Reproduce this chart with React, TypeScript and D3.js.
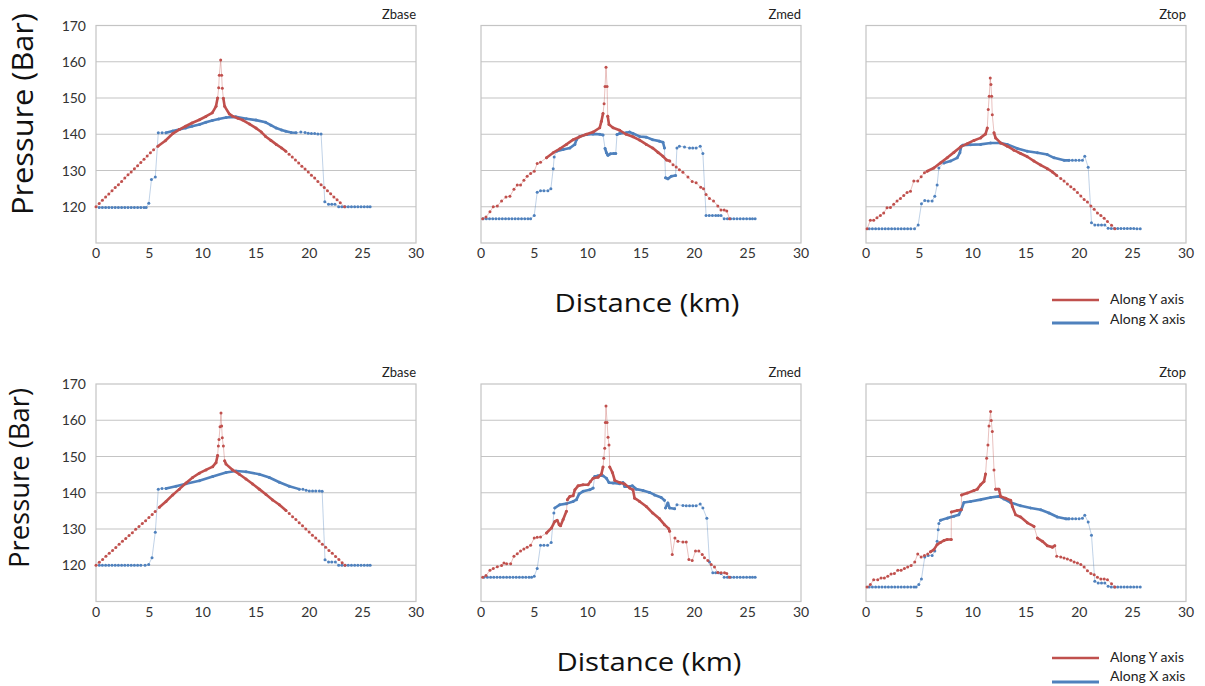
import React from 'react';
import * as d3 from 'd3';

type Pt = [number, number];

const xTicks = [0, 5, 10, 15, 20, 25, 30];
const yTicks = [120, 130, 140, 150, 160, 170];
const gridValues = [120, 130, 140, 150, 160];
const panelTitles = ['Zbase', 'Zmed', 'Ztop'];
const legendLabels = ['Along Y axis', 'Along X axis'];
const yAxisTitle = 'Pressure (Bar)';
const xAxisTitle = 'Distance (km)';

// ---------- Row 1 ----------
const redBaseTop: Pt[] = [
  [0, 120], [0.3, 120.9], [0.6, 121.8], [0.9, 122.7], [1.2, 123.5], [1.5, 124.4], [1.8, 125.3], [2.1, 126.1],
  [2.4, 127], [2.7, 127.9], [3.0, 128.8], [3.3, 129.6], [3.6, 130.5], [3.9, 131.3], [4.2, 132.2], [4.5, 133.1],
  [4.8, 134], [5.1, 134.9], [5.4, 135.7], [5.8, 136.7], [6.5, 138.2], [7.2, 140.2], [7.8, 141.3], [8.4, 142.2],
  [9.0, 143.1], [9.7, 144], [10.3, 144.9], [10.9, 145.9], [11.25, 147.7], [11.4, 150], [11.5, 152.8], [11.56, 156.3],
  [11.69, 160.5], [11.78, 156.3], [11.84, 152.7], [11.94, 149.9], [12.06, 147.7], [12.5, 145.6], [12.8, 145],
  [13.3, 144.4], [13.75, 143.9], [14.4, 142.8], [15, 141.7], [15.5, 140.6], [15.9, 139.4], [16.4, 138.3],
  [16.9, 137.2], [17.4, 136.2], [17.8, 135.3], [18.1, 134.5], [18.4, 133.7], [18.7, 132.9], [19.0, 132.1],
  [19.3, 131.2], [19.6, 130.4], [19.9, 129.6], [20.2, 128.7], [20.5, 127.9], [20.8, 127], [21.1, 126.1],
  [21.4, 125.3], [21.7, 124.4], [22.0, 123.6], [22.3, 122.7], [22.6, 121.9], [22.9, 121.1], [23.3, 120],
];
const blueBaseTop: Pt[] = [
  [0.3, 119.8], [0.6, 119.8], [0.9, 119.8], [1.2, 119.8], [1.5, 119.8], [1.8, 119.8], [2.1, 119.8], [2.4, 119.8],
  [2.7, 119.8], [3.0, 119.8], [3.3, 119.8], [3.6, 119.8], [3.9, 119.8], [4.2, 119.8], [4.5, 119.8], [4.7, 119.8],
  [4.95, 121], [5.2, 127.5], [5.56, 128.2], [5.84, 140.4], [6.2, 140.4], [6.56, 140.4], [7.2, 140.9], [7.8, 141.3],
  [8.4, 141.7], [9.0, 142.2], [9.7, 142.7], [10.3, 143.3], [10.9, 143.8], [11.5, 144.2], [12.2, 144.6],
  [13.1, 144.8], [14.1, 144.3], [15, 143.9], [15.9, 143.3], [16.4, 142.5], [16.9, 141.7], [17.4, 141.2],
  [17.8, 140.8], [18.3, 140.5], [18.75, 140.4], [19.2, 140.6], [19.6, 140.5], [19.9, 140.3], [20.2, 140.2],
  [20.5, 140.2], [20.8, 140.1], [21.1, 140.1], [21.45, 121.4], [21.8, 120.7], [22.1, 120.7], [22.4, 120.7],
  [22.75, 120], [23.05, 120], [23.35, 120], [23.65, 120], [23.95, 120], [24.25, 120], [24.55, 120], [24.85, 120],
  [25.15, 120], [25.45, 120], [25.7, 120],
];
const redMedTop: Pt[] = [
  [0.16, 116.7], [0.47, 117.2], [0.84, 118.6], [1.15, 120], [1.53, 120.2], [1.93, 121.6], [2.34, 122.7],
  [2.71, 122.9], [3.09, 124.8], [3.4, 126], [3.71, 126], [4.02, 127.3], [4.33, 128.4], [4.65, 129.2],
  [4.99, 129.8], [5.27, 131.9], [5.58, 132.3], [6.14, 133.5], [6.77, 134.9], [7.39, 136], [8.01, 137.2],
  [8.64, 138.5], [9.26, 139.3], [9.88, 140], [10.51, 140.6], [11.13, 141.8], [11.29, 143.6], [11.44, 145.7],
  [11.54, 148.4], [11.63, 153.2], [11.72, 158.5], [11.82, 153.2], [11.88, 145], [12.0, 142.7], [12.38, 141.8],
  [13, 141.1], [13.6, 140], [14.25, 139.3], [14.87, 138.4], [15.5, 137.2], [16.1, 136.2], [16.6, 135],
  [17.06, 133.9], [17.4, 132.9], [17.7, 132.6], [18.0, 131.6], [18.3, 131], [18.6, 130.2], [18.93, 129.5],
  [19.4, 128.2], [19.8, 127], [20.17, 126.6], [20.6, 125.4], [20.86, 125], [21.1, 123.4], [21.42, 122.3],
  [21.8, 121.6], [22.2, 120.2], [22.5, 119.1], [22.8, 119.1], [23.04, 118.8], [23.3, 116.7],
];
const blueMedTop: Pt[] = [
  [0.2, 116.7], [0.5, 116.7], [0.8, 116.7], [1.1, 116.7], [1.4, 116.7], [1.7, 116.7], [2.0, 116.7], [2.3, 116.7],
  [2.6, 116.7], [2.9, 116.7], [3.2, 116.7], [3.5, 116.7], [3.8, 116.7], [4.1, 116.7], [4.4, 116.7], [4.65, 116.7],
  [4.99, 117.6], [5.27, 124], [5.58, 124.4], [5.9, 124.4], [6.27, 124.4], [6.55, 125], [6.77, 130.5], [6.86, 133.7],
  [7.08, 135.3], [7.7, 135.8], [8.33, 136.2], [8.8, 137.2], [8.95, 138.5], [9.26, 139.4], [9.88, 139.9],
  [10.5, 140.1], [11.13, 140], [11.44, 139.8], [11.63, 136.1], [11.76, 134.9], [11.9, 134.2], [12.13, 134.6],
  [12.44, 134.7], [12.63, 134.7], [12.75, 139.9], [13, 140.2], [13.6, 140.4], [13.94, 140.6], [14.25, 140.2],
  [14.87, 139.4], [15.5, 139.2], [16.1, 138.5], [16.74, 138.1], [17.06, 137.8], [17.2, 136.2], [17.3, 128],
  [17.52, 127.7], [17.84, 128.4], [18.24, 128.6], [18.37, 136.2], [18.6, 136.7], [19.08, 136.5], [19.55, 136.2],
  [19.85, 136.2], [20.17, 136.2], [20.55, 136.7], [20.8, 134.7], [21.1, 117.6], [21.4, 117.6], [21.7, 117.6],
  [22.0, 117.6], [22.25, 117.6], [22.5, 117.6], [22.8, 116.7], [23.1, 116.7], [23.4, 116.7], [23.7, 116.7],
  [24.0, 116.7], [24.3, 116.7], [24.6, 116.7], [24.9, 116.7], [25.2, 116.7], [25.45, 116.7], [25.7, 116.7],
];
const redTopTop: Pt[] = [
  [0.1, 113.9], [0.41, 116.3], [0.72, 116.3], [1.03, 117], [1.35, 117.6], [1.66, 118.3], [1.97, 119.7],
  [2.29, 119.8], [2.6, 120.7], [2.91, 121.6], [3.23, 122.3], [3.54, 123.1], [3.85, 123.9], [4.17, 124.3],
  [4.48, 127.1], [4.85, 127.1], [5.17, 128.3], [5.48, 129.4], [5.73, 129.8], [6.36, 130.7], [6.98, 132.1],
  [7.61, 133.5], [8.24, 135], [8.86, 136.5], [9.49, 137.4], [10.12, 138.3], [10.74, 139], [11.21, 140.1],
  [11.37, 141.7], [11.46, 146.8], [11.55, 150.5], [11.65, 155.5], [11.71, 153.7], [11.78, 150.5], [11.84, 145.4],
  [12.0, 140.4], [12.15, 139], [12.62, 137.6], [13.25, 136.7], [13.87, 135.6], [14.5, 134.7], [15.13, 133.8],
  [15.75, 132.6], [16.38, 131.5], [17.0, 130.5], [17.48, 129.6], [17.88, 128.6], [18.26, 127.8], [18.57, 127.1],
  [18.88, 126.3], [19.2, 125.5], [19.51, 124.8], [19.82, 123.9], [20.14, 123], [20.45, 122], [20.76, 121.3],
  [21.08, 120.2], [21.39, 119.3], [21.7, 118.3], [22.02, 117.6], [22.33, 116.8], [22.64, 115.9], [23.02, 114.9],
  [23.33, 113.9],
];
const blueTopTop: Pt[] = [
  [0.3, 113.9], [0.6, 113.9], [0.9, 113.9], [1.2, 113.9], [1.5, 113.9], [1.8, 113.9], [2.1, 113.9], [2.4, 113.9],
  [2.7, 113.9], [3.0, 113.9], [3.3, 113.9], [3.6, 113.9], [3.9, 113.9], [4.2, 113.9], [4.55, 113.9], [4.89, 115],
  [5.2, 120.8], [5.51, 121.7], [5.83, 121.6], [6.2, 121.6], [6.45, 122.9], [6.67, 126], [6.83, 130.7], [7.3, 132.1],
  [7.92, 132.6], [8.55, 133.5], [8.8, 134.9], [8.93, 136.7], [9.08, 137], [9.8, 137.1], [10.74, 137.2],
  [11.68, 137.6], [12.62, 137.6], [13.25, 137.2], [14.19, 136.1], [15.13, 135.3], [16.07, 134.9], [17.0, 134.4],
  [17.63, 133.5], [18.57, 132.8], [19.04, 132.8], [19.35, 132.8], [19.66, 132.8], [19.98, 132.8], [20.29, 132.8],
  [20.51, 133.9], [20.83, 130.9], [21.14, 115.6], [21.45, 115], [21.77, 115], [22.08, 115], [22.39, 115],
  [22.7, 114.1], [23.0, 114], [23.3, 114], [23.6, 114], [23.9, 114], [24.2, 114], [24.5, 114], [24.8, 114],
  [25.1, 114], [25.4, 113.9], [25.71, 113.9],
];

// ---------- Row 2 ----------
const redBaseBot: Pt[] = [
  [0, 120], [0.31, 120.8], [0.62, 121.6], [0.93, 122.5], [1.24, 123.3], [1.55, 124.1], [1.86, 124.9], [2.17, 125.8],
  [2.48, 126.6], [2.79, 127.4], [3.1, 128.2], [3.41, 129], [3.72, 129.9], [4.03, 130.7], [4.34, 131.5],
  [4.65, 132.3], [4.96, 133.2], [5.27, 134], [5.55, 134.8], [5.94, 136], [6.56, 137.6], [7.19, 139.4], [7.81, 141],
  [8.44, 142.7], [9.06, 144.2], [9.69, 145.4], [10.31, 146.3], [10.94, 147.2], [11.25, 148.3], [11.4, 150.3],
  [11.47, 152.9], [11.53, 154.7], [11.63, 158.2], [11.72, 162], [11.78, 158.4], [11.84, 155.2], [11.94, 152.9],
  [12.06, 148.8], [12.19, 147.9], [12.81, 146.3], [13.44, 145.1], [14.06, 143.8], [14.69, 142.4], [15.31, 141],
  [15.94, 139.5], [16.56, 138], [17.19, 136.7], [17.81, 135.1], [18.12, 134.3], [18.43, 133.4], [18.74, 132.6],
  [19.05, 131.7], [19.36, 130.9], [19.67, 130], [19.98, 129.2], [20.29, 128.3], [20.6, 127.5], [20.91, 126.7],
  [21.22, 125.8], [21.53, 125], [21.84, 124.1], [22.15, 123.3], [22.46, 122.4], [22.77, 121.6], [23.08, 120.7],
  [23.34, 120],
];
const blueBaseBot: Pt[] = [
  [0.31, 120], [0.6, 120], [0.9, 120], [1.2, 120], [1.5, 120], [1.8, 120], [2.1, 120], [2.4, 120], [2.7, 120],
  [3.0, 120], [3.3, 120], [3.6, 120], [3.9, 120], [4.2, 120], [4.6, 120], [4.94, 120.2], [5.25, 122.1],
  [5.56, 129.1], [5.84, 141], [6.19, 141.2], [6.56, 141.2], [7.5, 141.8], [8.44, 142.5], [9.69, 143.3],
  [10.94, 144.5], [12.19, 145.6], [13.12, 146], [14.06, 145.8], [15.31, 145.1], [16.25, 144.2], [17.19, 142.9],
  [18.12, 141.8], [19.06, 141], [19.4, 141], [19.7, 140.7], [20, 140.5], [20.3, 140.5], [20.6, 140.5],
  [20.94, 140.5], [21.2, 140.4], [21.47, 121.5], [21.8, 120.9], [22.1, 120.9], [22.44, 120.9], [22.75, 120],
  [23.05, 120], [23.35, 120], [23.65, 120], [23.95, 120], [24.25, 120], [24.55, 120], [24.85, 120], [25.15, 120],
  [25.45, 120], [25.7, 120],
];
const redMedBot: Pt[] = [
  [0.16, 116.7], [0.47, 117.2], [0.84, 118.6], [1.15, 119.1], [1.53, 119.6], [1.93, 119.9], [2.15, 120.6],
  [2.4, 120.4], [2.78, 120.4], [3.09, 122.5], [3.4, 123.2], [3.71, 123.9], [4.02, 124.5], [4.33, 125],
  [4.65, 125.5], [4.99, 127.5], [5.27, 127.7], [5.58, 127.8], [6.14, 128.9], [6.61, 130.3], [6.92, 132.1],
  [7.14, 132.4], [7.33, 131.2], [7.46, 130.9], [7.7, 132.6], [8.01, 134.9], [8.1, 138.1], [8.33, 139],
  [8.64, 139.2], [8.8, 140.8], [9.1, 141.9], [9.57, 142.2], [10.04, 142.2], [10.26, 143.1], [10.51, 144],
  [10.98, 144.3], [11.29, 145.2], [11.44, 147.1], [11.51, 149.5], [11.6, 152.3], [11.66, 159.4], [11.72, 163.9],
  [11.82, 159.4], [11.91, 155.3], [12, 153.2], [12.07, 147.1], [12.32, 145.6], [12.54, 143.4], [13, 142.8],
  [13.47, 142.4], [13.94, 141.3], [14.25, 140.8], [14.4, 138.5], [14.87, 137.6], [15.5, 136.2], [16.1, 134.4],
  [16.74, 132.8], [17.2, 131.2], [17.6, 130.1], [17.68, 129.4], [17.93, 123], [18.18, 127.5], [18.46, 126.6],
  [18.93, 126.4], [19.24, 126.4], [19.49, 121.6], [19.8, 121.3], [20.11, 123.9], [20.42, 123.9], [20.74, 123],
  [20.95, 122.1], [21.27, 121.3], [21.58, 120.2], [21.89, 119.5], [22.2, 118], [22.51, 117.9], [22.83, 117.9],
  [23.04, 117.7], [23.29, 116.7],
];
const blueMedBot: Pt[] = [
  [0.28, 116.7], [0.6, 116.7], [0.9, 116.7], [1.2, 116.7], [1.5, 116.7], [1.8, 116.7], [2.1, 116.7], [2.4, 116.7],
  [2.7, 116.7], [3.0, 116.7], [3.3, 116.7], [3.6, 116.7], [3.9, 116.7], [4.2, 116.7], [4.5, 116.7], [4.74, 116.7],
  [4.99, 117], [5.27, 119.1], [5.58, 125.5], [5.9, 125.5], [6.24, 125.5], [6.58, 126.3], [6.83, 134.4],
  [6.92, 135.8], [7.39, 136.7], [8.01, 137], [8.64, 137.6], [8.95, 138.1], [9.2, 139.7], [9.57, 140.4],
  [10.2, 140.8], [10.51, 141.3], [10.66, 144.5], [10.98, 144.7], [11.44, 144.7], [11.76, 144], [12, 142.8],
  [12.38, 142.7], [13, 142.5], [13.31, 142.8], [13.47, 141.7], [13.94, 141.7], [14.19, 141.9], [14.56, 141],
  [15.19, 140.6], [15.8, 140.1], [16.28, 139.4], [16.9, 138.7], [17.2, 137.9], [17.3, 135.8], [17.52, 137.2],
  [17.68, 135.8], [18.15, 135.6], [18.37, 136.7], [18.93, 136.5], [19.24, 136.4], [19.55, 136.4], [19.86, 136.4],
  [20.17, 136.4], [20.55, 136.9], [20.8, 135.8], [21.17, 133], [21.42, 120.9], [21.73, 117.9], [22.0, 117.9],
  [22.25, 117.9], [22.5, 117.7], [22.8, 116.7], [23.1, 116.7], [23.4, 116.7], [23.7, 116.7], [24.0, 116.7],
  [24.3, 116.7], [24.6, 116.7], [24.9, 116.7], [25.2, 116.7], [25.45, 116.7], [25.7, 116.7],
];
const redTopBot: Pt[] = [
  [0.1, 114], [0.41, 114.7], [0.72, 116], [1.1, 116], [1.41, 116.5], [1.72, 116.5], [2.04, 117], [2.35, 117.6],
  [2.66, 117.7], [2.98, 118.6], [3.29, 118.6], [3.6, 119.1], [3.91, 119.5], [4.23, 119.9], [4.57, 120.9],
  [4.85, 123.1], [5.17, 122.3], [5.48, 122.7], [5.79, 123.1], [6.04, 123.7], [6.36, 124.3], [6.67, 125.7],
  [6.98, 126.3], [7.3, 126.8], [7.61, 127.1], [7.99, 127.1], [8.0, 134.7], [8.55, 135.1], [8.93, 135.3],
  [8.96, 139.4], [9.49, 139.9], [10.12, 140.6], [10.43, 141], [10.74, 142.2], [11.06, 143.1], [11.21, 145.2],
  [11.31, 149.5], [11.43, 153.2], [11.53, 158.4], [11.68, 162.4], [11.74, 159.9], [11.84, 156.9], [12, 146.3],
  [12.15, 141], [12.46, 141], [12.62, 139], [13.09, 138.5], [13.56, 137.9], [13.72, 136.2], [14.03, 133.9],
  [14.5, 133.3], [15.13, 131.7], [15.75, 130.7], [16.07, 127.5], [16.54, 126.6], [17, 125.4], [17.48, 125],
  [17.7, 125.4], [17.88, 122.5], [18.26, 122.3], [18.57, 122], [18.88, 121.7], [19.2, 121.4], [19.51, 120.9],
  [19.82, 120.6], [20.14, 120.2], [20.45, 119.5], [20.76, 118.5], [21.08, 117.7], [21.39, 117.4], [21.7, 116.7],
  [22.02, 116.2], [22.33, 116.2], [22.64, 116], [23.02, 114.9], [23.33, 114],
];
const blueTopBot: Pt[] = [
  [0.3, 114], [0.6, 114], [0.9, 114], [1.2, 114], [1.5, 114], [1.8, 114], [2.1, 114], [2.4, 114], [2.7, 114],
  [3.0, 114], [3.3, 114], [3.6, 114], [3.9, 114], [4.2, 114], [4.5, 114], [4.7, 114], [4.95, 114.7], [5.2, 116.2],
  [5.51, 122.3], [5.83, 122.7], [6.2, 122.7], [6.45, 123.9], [6.67, 126.6], [6.77, 129.8], [6.83, 131.5],
  [6.98, 132.4], [7.61, 133], [8.24, 133.5], [8.7, 133.9], [8.96, 135.5], [9.18, 137.3], [9.8, 137.6],
  [10.74, 138.1], [11.68, 138.7], [12.46, 139], [12.93, 138.3], [13.56, 137.3], [14.5, 136.4], [15.44, 135.8],
  [16.38, 135.3], [17.16, 134.4], [17.95, 133.3], [18.73, 132.8], [19.04, 132.8], [19.35, 132.8], [19.66, 132.8],
  [19.98, 132.8], [20.29, 133], [20.51, 133.8], [20.83, 131.9], [21.14, 128.3], [21.45, 115.6], [21.77, 115.1],
  [22.08, 115.1], [22.39, 115.1], [22.7, 114.2], [23.0, 114], [23.3, 114], [23.6, 114], [23.9, 114], [24.2, 114],
  [24.5, 114], [24.8, 114], [25.1, 114], [25.4, 114], [25.71, 114],
];

// x-ranges where the source data are densely sampled (markers merge into a solid line)
const redBaseTopDense = [5.6, 17.9];
const blueBaseTopDense = [6.5, 18.8];
const redMedTopDense = [5.9, 17.8];
const blueMedTopDense = [7.0, 18.3];
const redTopTopDense = [5.7, 17.9];
const blueTopTopDense = [6.9, 19.1];
const redBaseBotDense = [5.8, 17.9];
const blueBaseBotDense = [6.5, 19.1];
const redMedBotDense = [5.9, 17.7];
const blueMedBotDense = [6.9, 18.2];
const redTopBotDense = [5.8, 17.7];
const blueTopBotDense = [6.9, 19.1];

const RED = '#C0504D';
const BLUE = '#4F81BD';

const rows = [
  [
    { red: redBaseTop, redDense: redBaseTopDense, blue: blueBaseTop, blueDense: blueBaseTopDense },
    { red: redMedTop, redDense: redMedTopDense, blue: blueMedTop, blueDense: blueMedTopDense },
    { red: redTopTop, redDense: redTopTopDense, blue: blueTopTop, blueDense: blueTopTopDense },
  ],
  [
    { red: redBaseBot, redDense: redBaseBotDense, blue: blueBaseBot, blueDense: blueBaseBotDense },
    { red: redMedBot, redDense: redMedBotDense, blue: blueMedBot, blueDense: blueMedBotDense },
    { red: redTopBot, redDense: redTopBotDense, blue: blueTopBot, blueDense: blueTopBotDense },
  ],
];

const COL_LEFT = [96, 481, 866];
const PLOT_W = 320;
const ROW_TOP = [25.5, 384];
const PLOT_H = 217.5;
const SMALL_FONT = "Lato, 'Open Sans', sans-serif";
const BIG_FONT = "'Open Sans', 'Noto Sans', sans-serif";

function Series({ pts, dense, color, x, y }: { pts: Pt[]; dense: number[]; color: string; x: any; y: any }) {
  const line = d3.line<Pt>().x((d) => x(d[0])).y((d) => y(d[1]));
  const runs: Pt[][] = [];
  let cur: Pt[] = [];
  for (let i = 1; i < pts.length; i++) {
    const a = pts[i - 1];
    const b = pts[i];
    const dy = Math.abs(b[1] - a[1]);
    const dx = Math.max(Math.abs(b[0] - a[0]), 1e-6);
    const ok = a[0] >= dense[0] && b[0] <= dense[1] && dy <= 2.5 && dy / dx <= 20;
    if (ok) {
      if (cur.length === 0) cur.push(a);
      cur.push(b);
    } else if (cur.length) {
      runs.push(cur);
      cur = [];
    }
  }
  if (cur.length) runs.push(cur);
  return (
    <g>
      <path d={line(pts) || ''} fill="none" stroke={color} strokeOpacity={0.45} strokeWidth={0.8} />
      {runs.map((r, i) => (
        <path key={i} d={line(r) || ''} fill="none" stroke={color} strokeWidth={2.6} strokeLinejoin="round" strokeLinecap="round" />
      ))}
      {pts.map((p, i) => (
        <circle key={i} cx={x(p[0])} cy={y(p[1])} r={1.5} fill={color} />
      ))}
    </g>
  );
}

function Panel({ row, col }: { row: number; col: number }) {
  const left = COL_LEFT[col];
  const top = ROW_TOP[row];
  const x = d3.scaleLinear().domain([0, 30]).range([left, left + PLOT_W]);
  const y = d3.scaleLinear().domain([110, 170]).range([top + PLOT_H, top]);
  const d = rows[row][col];
  return (
    <g>
      <text x={left + PLOT_W} y={top - 7} textAnchor="end" fontFamily={SMALL_FONT} fontSize={13} fill="#222">
        {panelTitles[col]}
      </text>
      {gridValues.map((v) => (
        <line key={v} x1={left} x2={left + PLOT_W} y1={y(v)} y2={y(v)} stroke="#c4c4c4" strokeWidth={1.2} />
      ))}
      <rect x={left} y={top} width={PLOT_W} height={PLOT_H} fill="none" stroke="#c4c4c4" strokeWidth={1.2} />
      {col === 0 &&
        yTicks.map((v) => (
          <text key={v} x={left - 10} y={y(v) + 5} textAnchor="end" fontFamily={SMALL_FONT} fontSize={14} fill="#333">
            {v}
          </text>
        ))}
      {xTicks.map((v) => (
        <text key={v} x={x(v)} y={top + PLOT_H + 15} textAnchor="middle" fontFamily={SMALL_FONT} fontSize={14} fill="#333">
          {v}
        </text>
      ))}
      <Series pts={d.blue} dense={d.blueDense} color={BLUE} x={x} y={y} />
      <Series pts={d.red} dense={d.redDense} color={RED} x={x} y={y} />
    </g>
  );
}

export default function App() {
  return (
    <svg width={1205} height={686} style={{ position: 'absolute', left: 0, top: 0, background: '#fff' }}>
      <rect x={0} y={0} width={1205} height={686} fill="#fff" />
      {[0, 1].map((r) => [0, 1, 2].map((c) => <Panel key={`${r}-${c}`} row={r} col={c} />))}
      {/* Y axis titles */}
      <text transform="translate(33,114) rotate(-90)" textAnchor="middle" fontFamily={BIG_FONT} fontSize={30} fill="#111" textLength={202} lengthAdjust="spacingAndGlyphs">
        {yAxisTitle}
      </text>
      <text transform="translate(29,478) rotate(-90)" textAnchor="middle" fontFamily={BIG_FONT} fontSize={27} fill="#111" textLength={180} lengthAdjust="spacingAndGlyphs">
        {yAxisTitle}
      </text>
      {/* X axis titles */}
      <text x={647} y={312} textAnchor="middle" fontFamily={BIG_FONT} fontSize={25} fill="#111" textLength={185} lengthAdjust="spacingAndGlyphs">
        {xAxisTitle}
      </text>
      <text x={649} y={671} textAnchor="middle" fontFamily={BIG_FONT} fontSize={25} fill="#111" textLength={185} lengthAdjust="spacingAndGlyphs">
        {xAxisTitle}
      </text>
      {/* Legends */}
      {[
        { y1: 300, y2: 323, t1: 304, t2: 324 },
        { y1: 658, y2: 682, t1: 662, t2: 681 },
      ].map((l, i) => (
        <g key={i}>
          <line x1={1052} x2={1099} y1={l.y1} y2={l.y1} stroke={RED} strokeWidth={2.5} />
          <line x1={1052} x2={1099} y1={l.y2} y2={l.y2} stroke={BLUE} strokeWidth={3} />
          <text x={1110} y={l.t1} fontFamily={SMALL_FONT} fontSize={14} fill="#222">
            {legendLabels[0]}
          </text>
          <text x={1110} y={l.t2} fontFamily={SMALL_FONT} fontSize={14} fill="#222">
            {legendLabels[1]}
          </text>
        </g>
      ))}
    </svg>
  );
}
